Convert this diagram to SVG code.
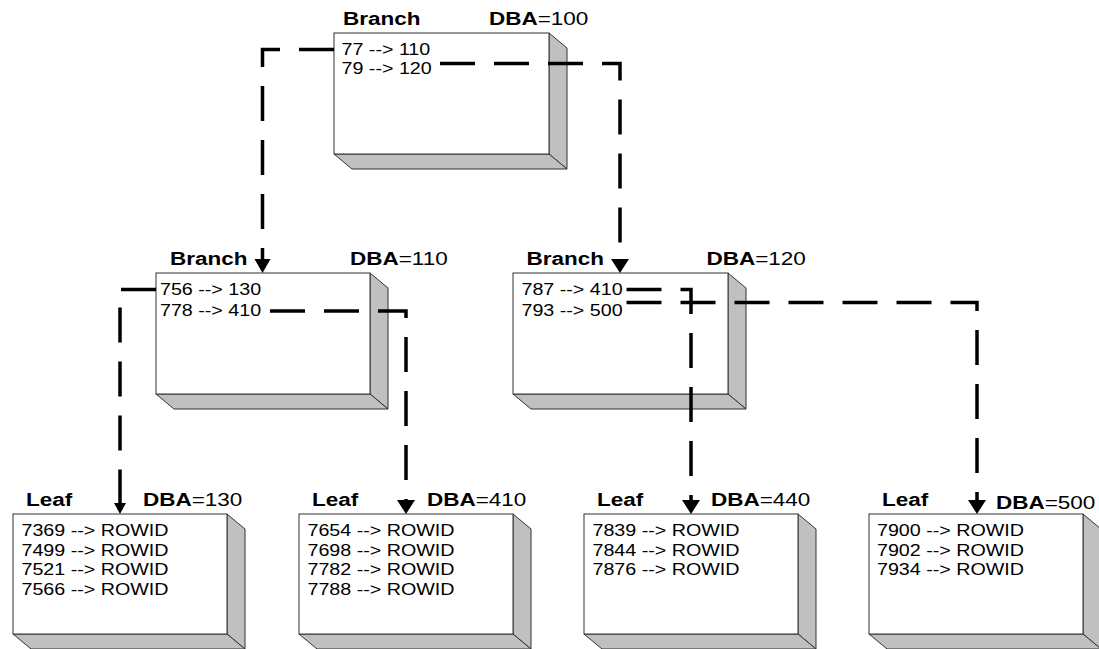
<svg xmlns="http://www.w3.org/2000/svg" width="1099" height="649" viewBox="0 0 1099 649">
<style>
.front{fill:#ffffff;stroke:#333333;stroke-width:1}
.shade{fill:#c0c0c0;stroke:#333333;stroke-width:1;stroke-linejoin:miter}
.t{font-family:"Liberation Sans",Arial,sans-serif;font-size:16px;fill:#000}
.h{font-family:"Liberation Sans",Arial,sans-serif;font-size:18px;fill:#000}
.b{font-weight:bold}
.link{fill:none;stroke:#000;stroke-width:3.5;stroke-dasharray:35 19}
.ah{fill:#000}
</style>
<rect width="1099" height="649" fill="#ffffff"/>

<g id="branch-100">
<polygon class="shade" points="549,33 567,48 567,169 549,154"/>
<polygon class="shade" points="334,154 549,154 567,169 352,169"/>
<rect class="front" x="334" y="33" width="215" height="121"/>
<text class="h b" transform="translate(343,25) scale(1.25,1)">Branch</text>
<text class="h" transform="translate(489,25) scale(1.25,1)"><tspan class="b">DBA</tspan>=100</text>
<text class="t" transform="translate(341.5,55) scale(1.23,1)">77 --&gt; 110</text>
<text class="t" transform="translate(341.5,74) scale(1.23,1)">79 --&gt; 120</text>
</g>

<g id="branch-110">
<polygon class="shade" points="370,273 388,288 388,409 370,394"/>
<polygon class="shade" points="156,394 370,394 388,409 174,409"/>
<rect class="front" x="156" y="273" width="214" height="121"/>
<text class="h b" transform="translate(170,265) scale(1.25,1)">Branch</text>
<text class="h" transform="translate(350,265) scale(1.25,1)"><tspan class="b">DBA</tspan>=110</text>
<text class="t" transform="translate(160,295) scale(1.23,1)">756 --&gt; 130</text>
<text class="t" transform="translate(160,316) scale(1.23,1)">778 --&gt; 410</text>
</g>

<g id="branch-120">
<polygon class="shade" points="728,273 746,288 746,409 728,394"/>
<polygon class="shade" points="513,394 728,394 746,409 531,409"/>
<rect class="front" x="513" y="273" width="215" height="121"/>
<text class="h b" transform="translate(526.5,265) scale(1.25,1)">Branch</text>
<text class="h" transform="translate(706.5,265) scale(1.25,1)"><tspan class="b">DBA</tspan>=120</text>
<text class="t" transform="translate(521.5,295) scale(1.23,1)">787 --&gt; 410</text>
<text class="t" transform="translate(521.5,316) scale(1.23,1)">793 --&gt; 500</text>
</g>

<g id="leaf-130">
<polygon class="shade" points="227,514 245,529 245,649 227,634"/>
<polygon class="shade" points="13,634 227,634 245,649 31,649"/>
<rect class="front" x="13" y="514" width="214" height="120"/>
<text class="h b" transform="translate(26,506) scale(1.25,1)">Leaf</text>
<text class="h" transform="translate(143,506) scale(1.25,1)"><tspan class="b">DBA</tspan>=130</text>
<text class="t" transform="translate(21.5,536) scale(1.23,1)">7369 --&gt; ROWID</text>
<text class="t" transform="translate(21.5,555.5) scale(1.23,1)">7499 --&gt; ROWID</text>
<text class="t" transform="translate(21.5,575) scale(1.23,1)">7521 --&gt; ROWID</text>
<text class="t" transform="translate(21.5,594.5) scale(1.23,1)">7566 --&gt; ROWID</text>
</g>

<g id="leaf-410">
<polygon class="shade" points="513,514 531,529 531,649 513,634"/>
<polygon class="shade" points="299,634 513,634 531,649 317,649"/>
<rect class="front" x="299" y="514" width="214" height="120"/>
<text class="h b" transform="translate(312,506) scale(1.25,1)">Leaf</text>
<text class="h" transform="translate(427,506) scale(1.25,1)"><tspan class="b">DBA</tspan>=410</text>
<text class="t" transform="translate(307.5,536) scale(1.23,1)">7654 --&gt; ROWID</text>
<text class="t" transform="translate(307.5,555.5) scale(1.23,1)">7698 --&gt; ROWID</text>
<text class="t" transform="translate(307.5,575) scale(1.23,1)">7782 --&gt; ROWID</text>
<text class="t" transform="translate(307.5,594.5) scale(1.23,1)">7788 --&gt; ROWID</text>
</g>

<g id="leaf-440">
<polygon class="shade" points="798,514 816,529 816,649 798,634"/>
<polygon class="shade" points="584,634 798,634 816,649 602,649"/>
<rect class="front" x="584" y="514" width="214" height="120"/>
<text class="h b" transform="translate(597,506) scale(1.25,1)">Leaf</text>
<text class="h" transform="translate(711,506) scale(1.25,1)"><tspan class="b">DBA</tspan>=440</text>
<text class="t" transform="translate(592.5,536) scale(1.23,1)">7839 --&gt; ROWID</text>
<text class="t" transform="translate(592.5,555.5) scale(1.23,1)">7844 --&gt; ROWID</text>
<text class="t" transform="translate(592.5,575) scale(1.23,1)">7876 --&gt; ROWID</text>
</g>

<g id="leaf-500">
<polygon class="shade" points="1083,514 1101,529 1101,649 1083,634"/>
<polygon class="shade" points="869,634 1083,634 1101,649 887,649"/>
<rect class="front" x="869" y="514" width="214" height="120"/>
<text class="h b" transform="translate(882,506) scale(1.25,1)">Leaf</text>
<text class="h" transform="translate(996,509) scale(1.25,1)"><tspan class="b">DBA</tspan>=500</text>
<text class="t" transform="translate(877,536) scale(1.23,1)">7900 --&gt; ROWID</text>
<text class="t" transform="translate(877,555.5) scale(1.23,1)">7902 --&gt; ROWID</text>
<text class="t" transform="translate(877,575) scale(1.23,1)">7934 --&gt; ROWID</text>
</g>

<g id="connectors">
<path class="link" d="M334,49.5 H262.5 V259"/>
<polygon class="ah" points="254.5,259 270.5,259 262.5,273"/>
<path class="link" d="M440,63.5 H620 V259"/>
<polygon class="ah" points="611,259 629,259 620,273"/>
<path class="link" d="M156,289.5 H120 V503"/>
<polygon class="ah" points="114,503 126,503 120,514"/>
<path class="link" d="M270,311 H406 V500"/>
<polygon class="ah" points="397,500 415,500 406,514"/>
<path class="link" d="M626.5,289.5 H691 V500"/>
<polygon class="ah" points="682,500 700,500 691,514"/>
<path class="link" d="M626.5,302.5 H977 V500"/>
<polygon class="ah" points="968,500 986,500 977,514"/>
</g>
</svg>
